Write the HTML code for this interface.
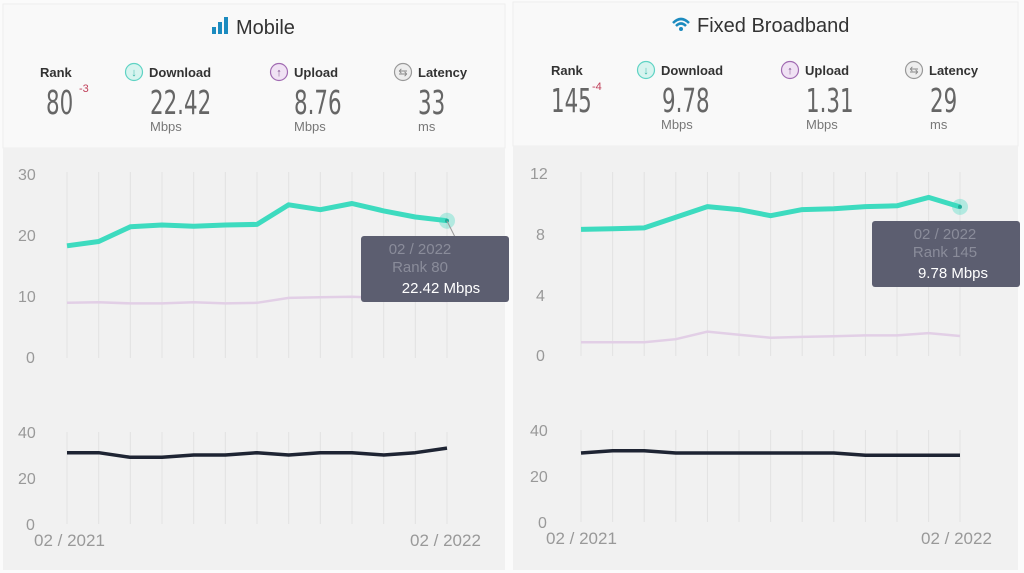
<!DOCTYPE html>
<html><head><meta charset="utf-8"><style>
body{margin:0;width:1024px;height:573px;background:#fff;overflow:hidden;font-family:"Liberation Sans",sans-serif;}
svg{position:absolute;left:0;top:0}
.big{font-family:"DejaVu Sans Condensed","DejaVu Sans",sans-serif;font-weight:200;font-size:33px;fill:#666}
</style></head><body>
<svg width="1024" height="573" viewBox="0 0 1024 573" font-family="Liberation Sans, sans-serif">
<rect width="1024" height="573" fill="#fbfbfb"/>
<rect x="3" y="4" width="502" height="144" fill="#f9f9f9" stroke="#eee"/>
<rect x="3" y="148" width="502" height="422" fill="#f1f1f1"/>
<rect x="513" y="2" width="505" height="144" fill="#f9f9f9" stroke="#eee"/>
<rect x="513" y="146" width="505" height="424" fill="#f1f1f1"/>

<!-- Left header -->
<g fill="#1c8bbf"><rect x="212" y="27" width="4" height="7"/><rect x="218" y="22" width="4" height="12"/><rect x="224" y="17" width="4" height="17"/></g>
<text x="236" y="34" font-size="20" fill="#333">Mobile</text>
<text x="40" y="77" font-size="13" font-weight="bold" fill="#333">Rank</text>
<text x="46" y="114" class="big" transform="scale(0.72,1)" transform-origin="46 114">80</text>
<text x="79" y="92" font-size="11" fill="#c0405a">-3</text>
<circle cx="134" cy="72" r="8.5" fill="#d7f4ef" stroke="#5fd3c4" stroke-width="1.2"/><text x="134" y="76" font-size="11" fill="#3cb8a8" text-anchor="middle">↓</text>
<text x="149" y="77" font-size="13" font-weight="bold" fill="#333">Download</text>
<text x="150" y="114" class="big" transform="scale(0.72,1)" transform-origin="150 114">22.42</text>
<text x="150" y="131" font-size="13" fill="#777">Mbps</text>
<circle cx="279" cy="72" r="8.5" fill="#f0e2f4" stroke="#a16bb2" stroke-width="1.2"/><text x="279" y="76" font-size="11" fill="#7a4b8c" text-anchor="middle">↑</text>
<text x="294" y="77" font-size="13" font-weight="bold" fill="#333">Upload</text>
<text x="294" y="114" class="big" transform="scale(0.72,1)" transform-origin="294 114">8.76</text>
<text x="294" y="131" font-size="13" fill="#777">Mbps</text>
<circle cx="403" cy="72" r="8.5" fill="#eee" stroke="#999" stroke-width="1.2"/><text x="403" y="76" font-size="11" fill="#888" text-anchor="middle">⇆</text>
<text x="418" y="77" font-size="13" font-weight="bold" fill="#333">Latency</text>
<text x="418" y="114" class="big" transform="scale(0.72,1)" transform-origin="418 114">33</text>
<text x="418" y="131" font-size="13" fill="#777">ms</text>

<!-- Right header -->
<path d="M673 23 Q681 15 689 23" stroke="#1c8bbf" stroke-width="2.5" fill="none"/><path d="M676 26 Q681 21 686 26" stroke="#1c8bbf" stroke-width="2.5" fill="none"/><circle cx="681" cy="29" r="2" fill="#1c8bbf"/>
<text x="697" y="32" font-size="20" fill="#333">Fixed Broadband</text>
<text x="551" y="75" font-size="13" font-weight="bold" fill="#333">Rank</text>
<text x="551" y="112" class="big" transform="scale(0.72,1)" transform-origin="551 112">145</text>
<text x="592" y="90" font-size="11" fill="#c0405a">-4</text>
<circle cx="646" cy="70" r="8.5" fill="#d7f4ef" stroke="#5fd3c4" stroke-width="1.2"/><text x="646" y="74" font-size="11" fill="#3cb8a8" text-anchor="middle">↓</text>
<text x="661" y="75" font-size="13" font-weight="bold" fill="#333">Download</text>
<text x="662" y="112" class="big" transform="scale(0.72,1)" transform-origin="662 112">9.78</text>
<text x="661" y="129" font-size="13" fill="#777">Mbps</text>
<circle cx="790" cy="70" r="8.5" fill="#f0e2f4" stroke="#a16bb2" stroke-width="1.2"/><text x="790" y="74" font-size="11" fill="#7a4b8c" text-anchor="middle">↑</text>
<text x="805" y="75" font-size="13" font-weight="bold" fill="#333">Upload</text>
<text x="806" y="112" class="big" transform="scale(0.72,1)" transform-origin="806 112">1.31</text>
<text x="806" y="129" font-size="13" fill="#777">Mbps</text>
<circle cx="914" cy="70" r="8.5" fill="#eee" stroke="#999" stroke-width="1.2"/><text x="914" y="74" font-size="11" fill="#888" text-anchor="middle">⇆</text>
<text x="929" y="75" font-size="13" font-weight="bold" fill="#333">Latency</text>
<text x="930" y="112" class="big" transform="scale(0.72,1)" transform-origin="930 112">29</text>
<text x="930" y="129" font-size="13" fill="#777">ms</text>

<g stroke="#e2e2e2" stroke-width="1">
<path d="M67 172V358M98.7 172V358M130.3 172V358M162 172V358M193.7 172V358M225.3 172V358M257 172V358M288.7 172V358M320.3 172V358M352 172V358M383.7 172V358M415.3 172V358M447 172V358"/>
<path d="M67 432V524M98.7 432V524M130.3 432V524M162 432V524M193.7 432V524M225.3 432V524M257 432V524M288.7 432V524M320.3 432V524M352 432V524M383.7 432V524M415.3 432V524M447 432V524"/>
<path d="M581 172V356M612.6 172V356M644.2 172V356M675.8 172V356M707.4 172V356M739 172V356M770.6 172V356M802.2 172V356M833.8 172V356M865.4 172V356M897 172V356M928.6 172V356M960 172V356"/>
<path d="M581 430V522M612.6 430V522M644.2 430V522M675.8 430V522M707.4 430V522M739 430V522M770.6 430V522M802.2 430V522M833.8 430V522M865.4 430V522M897 430V522M928.6 430V522M960 430V522"/>
</g>
<g font-size="16" fill="#999">
<text x="18" y="180">30</text><text x="18" y="241">20</text><text x="18" y="302">10</text><text x="26" y="363">0</text>
<text x="18" y="438">40</text><text x="18" y="484">20</text><text x="26" y="530">0</text>
<text x="530" y="179">12</text><text x="536" y="240">8</text><text x="536" y="301">4</text><text x="536" y="361">0</text>
<text x="530" y="436">40</text><text x="530" y="482">20</text><text x="538" y="528">0</text>
</g>
<g font-size="17" fill="#999">
<text x="34" y="546">02 / 2021</text><text x="410" y="546">02 / 2022</text>
<text x="546" y="544">02 / 2021</text><text x="921" y="544">02 / 2022</text>
</g>
<polyline fill="none" stroke="#e2cfe6" stroke-width="2.5" points="67,302.8 98.7,302.2 130.3,303.4 162,303.4 193.7,302.2 225.3,303.4 257,302.8 288.7,297.9 320.3,297.3 352,296.7 383.7,297.9 415.3,299.8 447,301"/>
<polyline fill="none" stroke="#3ddbbf" stroke-width="5" stroke-linejoin="round" points="67,245.8 98.7,241.5 130.3,226.8 162,225 193.7,226.2 225.3,225 257,224.4 288.7,204.8 320.3,209.7 352,203.5 383.7,210.9 415.3,217 447,220.7"/>
<polyline fill="none" stroke="#1e2433" stroke-width="3.5" stroke-linejoin="round" points="67,452.7 98.7,452.7 130.3,457.3 162,457.3 193.7,455 225.3,455 257,452.7 288.7,455 320.3,452.7 352,452.7 383.7,455 415.3,452.7 447,448.1"/>
<circle cx="447" cy="220.7" r="8" fill="#3ddbbf" opacity="0.35"/><circle cx="447" cy="220.7" r="2" fill="#2a9"/>
<line x1="447" y1="221" x2="455" y2="237" stroke="#999"/>
<rect x="361" y="236" width="148" height="66" rx="3" fill="#5c5e70"/>
<text x="420" y="254" font-size="15" fill="#8a8c9a" text-anchor="middle">02 / 2022</text>
<text x="420" y="272" font-size="15" fill="#8a8c9a" text-anchor="middle">Rank 80</text>
<text x="441" y="293" font-size="15" fill="#fff" text-anchor="middle">22.42 Mbps</text>
<polyline fill="none" stroke="#e2cfe6" stroke-width="2.5" points="581,342.3 612.6,342.3 644.2,342.3 675.8,339.2 707.4,331.6 739,334.7 770.6,337.7 802.2,336.9 833.8,336.2 865.4,335.4 897,335.4 928.6,333.1 960,336"/>
<polyline fill="none" stroke="#3ddbbf" stroke-width="5" stroke-linejoin="round" points="581,229.4 612.6,228.7 644.2,227.9 675.8,217.2 707.4,206.6 739,209.6 770.6,215.7 802.2,209.6 833.8,208.8 865.4,206.6 897,205.8 928.6,197.4 960,206.9"/>
<polyline fill="none" stroke="#1e2433" stroke-width="3.5" stroke-linejoin="round" points="581,453 612.6,450.7 644.2,450.7 675.8,453 707.4,453 739,453 770.6,453 802.2,453 833.8,453 865.4,455.3 897,455.3 928.6,455.3 960,455.3"/>
<circle cx="960" cy="206.9" r="8" fill="#3ddbbf" opacity="0.35"/><circle cx="960" cy="206.9" r="2" fill="#2a9"/>
<rect x="872" y="221" width="148" height="66" rx="3" fill="#5c5e70"/>
<text x="945" y="239" font-size="15" fill="#8a8c9a" text-anchor="middle">02 / 2022</text>
<text x="945" y="257" font-size="15" fill="#8a8c9a" text-anchor="middle">Rank 145</text>
<text x="953" y="278" font-size="15" fill="#fff" text-anchor="middle">9.78 Mbps</text>
</svg>
</body></html>
